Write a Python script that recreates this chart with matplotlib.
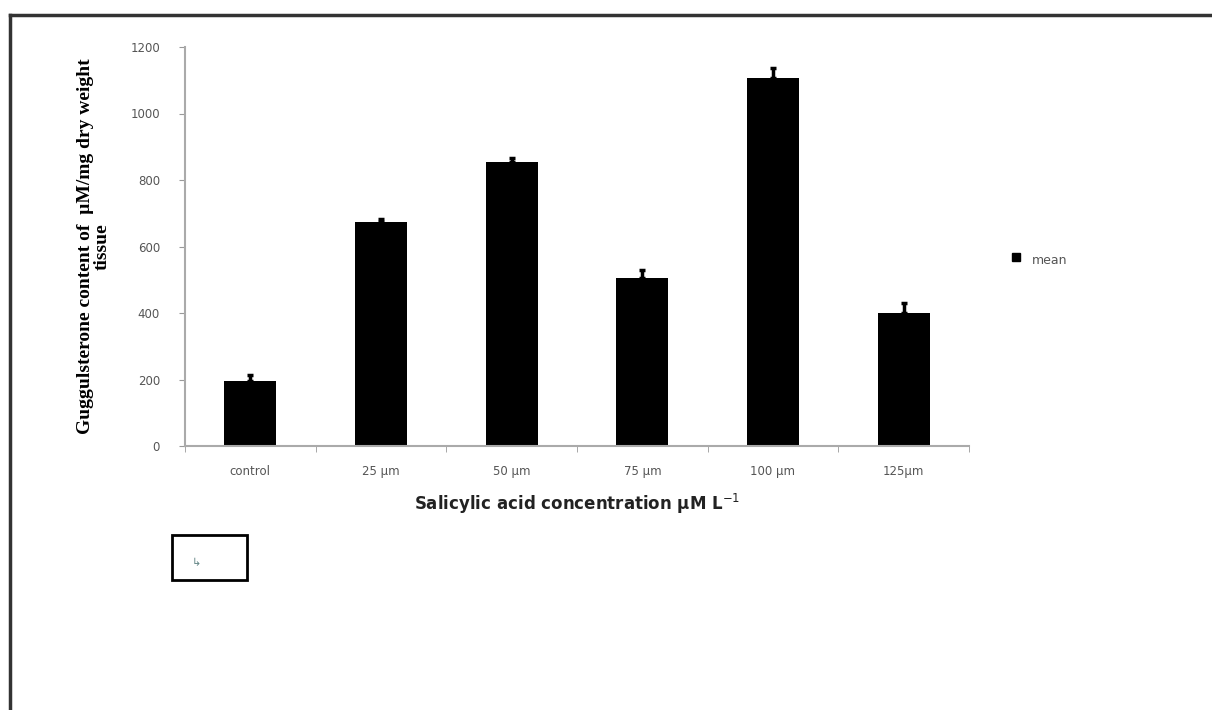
import numpy as np
import matplotlib.pyplot as plt
from matplotlib.patches import Rectangle
from matplotlib.lines import Line2D

# データ
categories = ["control", "25 µm", "50 µm", "75 µm", "100 µm", "125µm"]
mean_values = [195, 674, 854, 505, 1107, 400]
err_values = [20, 8, 12, 25, 30, 30]
y_ticks = [0, 200, 400, 600, 800, 1000, 1200]

fig = plt.figure(figsize=(12.12, 7.10), dpi=100)
W, H = 1212, 710

# 外枠
fig.add_artist(Line2D([10 / W, 1.0], [1 - 15 / H, 1 - 15 / H], color="#333333", lw=2.5))
fig.add_artist(Line2D([10 / W, 10 / W], [1 - 15 / H, 0.0], color="#333333", lw=2.5))

ax = fig.add_axes([185 / W, 1 - 446 / H, (969 - 185) / W, (446 - 47) / H])
x = np.arange(len(categories))
ax.bar(x, mean_values, width=0.4, color="black", zorder=2)
ax.errorbar(x, mean_values, yerr=[[0] * len(x), err_values], fmt="none",
            ecolor="black", elinewidth=2.5, capsize=2, capthick=2.5, zorder=3)

ax.set_xlim(-0.5, len(categories) - 0.5)
ax.set_ylim(0, 1200)
ax.set_yticks(y_ticks)
ax.set_yticklabels([str(v) for v in y_ticks], fontsize=8.5, color="#555555")
ax.set_xticks(x)
ax.set_xticklabels(categories, fontsize=8.5, color="#555555")
ax.set_xticks(np.arange(-0.5, len(categories)), minor=True)
ax.tick_params(axis="x", which="major", length=0, pad=14)
ax.tick_params(axis="x", which="minor", length=4, color="#999999", direction="out")
ax.tick_params(axis="y", length=4, color="#999999", direction="out", pad=14)

for s in ["top", "right"]:
    ax.spines[s].set_visible(False)
ax.spines["left"].set_color("#aaaaaa")
ax.spines["bottom"].set_color("#aaaaaa")
ax.spines["left"].set_linewidth(1.5)
ax.spines["bottom"].set_linewidth(1.5)

ax.set_ylabel("Guggulsterone content of  µM/mg dry weight\ntissue",
              fontsize=14, fontweight="bold", family="Liberation Serif", labelpad=14,
              linespacing=1.0)
ax.set_xlabel("Salicylic acid concentration µM L$^{-1}$",
              fontsize=12, fontweight="bold", labelpad=10, color="#222222")

# 凡例
fig.add_artist(Line2D([1016 / W], [1 - 257 / H], marker="s", color="black",
                      markersize=6, linestyle="none"))
fig.text(1032 / W, 1 - 261 / H, "mean", fontsize=9, color="#555555", va="center")

# 小さい枠
fig.add_artist(Rectangle((172 / W, 1 - 580 / H), 75 / W, 45 / H, fill=False,
                         edgecolor="black", lw=2, transform=fig.transFigure))
fig.text(192 / W, 1 - 563 / H, "↳", fontsize=8, color="#668888", va="center")

fig.savefig("out.png", dpi=100)
